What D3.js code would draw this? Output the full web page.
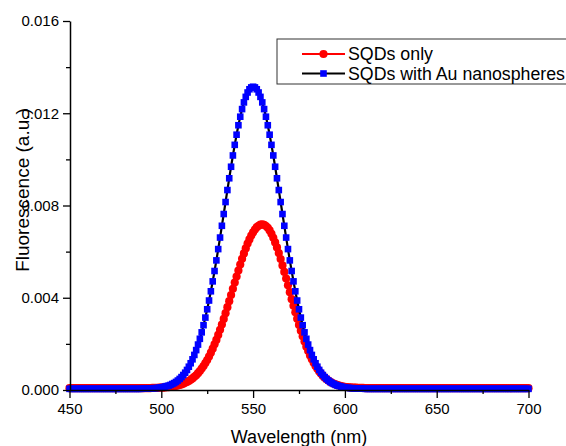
<!DOCTYPE html>
<html>
<head>
<meta charset="utf-8">
<script src="https://cdn.jsdelivr.net/npm/d3@7"></script>
<style>
  html, body { margin: 0; padding: 0; background: #fff; overflow: hidden; }
  svg { display: block; }
  text { font-family: "Liberation Sans", Arial, sans-serif; fill: #000; }
</style>
</head>
<body>
<svg id="chart" width="566" height="446"></svg>
<script>
// ---------------- DATA ----------------
const wavelengths = [
450,451,452,453,454,455,456,457,458,459,460,461,462,463,464,465,466,467,468,469,
470,471,472,473,474,475,476,477,478,479,480,481,482,483,484,485,486,487,488,489,
490,491,492,493,494,495,496,497,498,499,500,501,502,503,504,505,506,507,508,509,
510,511,512,513,514,515,516,517,518,519,520,521,522,523,524,525,526,527,528,529,
530,531,532,533,534,535,536,537,538,539,540,541,542,543,544,545,546,547,548,549,
550,551,552,553,554,555,556,557,558,559,560,561,562,563,564,565,566,567,568,569,
570,571,572,573,574,575,576,577,578,579,580,581,582,583,584,585,586,587,588,589,
590,591,592,593,594,595,596,597,598,599,600,601,602,603,604,605,606,607,608,609,
610,611,612,613,614,615,616,617,618,619,620,621,622,623,624,625,626,627,628,629,
630,631,632,633,634,635,636,637,638,639,640,641,642,643,644,645,646,647,648,649,
650,651,652,653,654,655,656,657,658,659,660,661,662,663,664,665,666,667,668,669,
670,671,672,673,674,675,676,677,678,679,680,681,682,683,684,685,686,687,688,689,
690,691,692,693,694,695,696,697,698,699,700];

const sqdsOnly = [
0.00008,0.00008,0.00008,0.00008,0.00008,0.00008,0.00008,0.00008,0.00008,0.00008,
0.00008,0.00008,0.00008,0.00008,0.00008,0.00008,0.00008,0.00008,0.00008,0.00008,
0.00008,0.00008,0.00008,0.00008,0.00008,0.00008,0.00008,0.00008,0.00008,0.00008,
0.00008,0.00008,0.00008,0.00008,0.00008,0.00008,0.00008,0.00008,0.00008,0.00008,
0.00008,0.00008,0.00008,0.00008,0.00008,0.00009,0.00009,0.00009,0.00009,0.00010,
0.00010,0.00010,0.00011,0.00012,0.00012,0.00013,0.00015,0.00016,0.00018,0.00019,
0.00022,0.00024,0.00027,0.00031,0.00035,0.00039,0.00044,0.00050,0.00057,0.00064,
0.00073,0.00082,0.00093,0.00104,0.00117,0.00130,0.00145,0.00162,0.00179,0.00198,
0.00217,0.00239,0.00261,0.00284,0.00308,0.00333,0.00359,0.00385,0.00412,0.00439,
0.00466,0.00492,0.00518,0.00544,0.00569,0.00592,0.00614,0.00635,0.00653,0.00670,
0.00684,0.00696,0.00706,0.00712,0.00717,0.00718,0.00716,0.00711,0.00703,0.00692,
0.00677,0.00660,0.00640,0.00618,0.00594,0.00568,0.00540,0.00512,0.00483,0.00454,
0.00424,0.00394,0.00365,0.00337,0.00309,0.00282,0.00257,0.00233,0.00210,0.00188,
0.00169,0.00150,0.00133,0.00118,0.00104,0.00092,0.00080,0.00070,0.00061,0.00053,
0.00047,0.00041,0.00035,0.00031,0.00027,0.00024,0.00021,0.00019,0.00017,0.00015,
0.00014,0.00013,0.00012,0.00011,0.00010,0.00010,0.00010,0.00009,0.00009,0.00009,
0.00009,0.00008,0.00008,0.00008,0.00008,0.00008,0.00008,0.00008,0.00008,0.00008,
0.00008,0.00008,0.00008,0.00008,0.00008,0.00008,0.00008,0.00008,0.00008,0.00008,
0.00008,0.00008,0.00008,0.00008,0.00008,0.00008,0.00008,0.00008,0.00008,0.00008,
0.00008,0.00008,0.00008,0.00008,0.00008,0.00008,0.00008,0.00008,0.00008,0.00008,
0.00008,0.00008,0.00008,0.00008,0.00008,0.00008,0.00008,0.00008,0.00008,0.00008,
0.00008,0.00008,0.00008,0.00008,0.00008,0.00008,0.00008,0.00008,0.00008,0.00008,
0.00008,0.00008,0.00008,0.00008,0.00008,0.00008,0.00008,0.00008,0.00008,0.00008,
0.00008,0.00008,0.00008,0.00008,0.00008,0.00008,0.00008,0.00008,0.00008,0.00008,
0.00008,0.00008,0.00008,0.00008,0.00008,0.00008,0.00008,0.00008,0.00008,0.00008,
0.00008];

const sqdsWithAu = [
0.00005,0.00005,0.00005,0.00005,0.00005,0.00005,0.00005,0.00005,0.00005,0.00005,
0.00005,0.00005,0.00005,0.00005,0.00005,0.00005,0.00005,0.00005,0.00005,0.00005,
0.00005,0.00005,0.00005,0.00005,0.00005,0.00005,0.00005,0.00005,0.00005,0.00005,
0.00005,0.00005,0.00005,0.00005,0.00005,0.00005,0.00005,0.00005,0.00005,0.00005,
0.00006,0.00006,0.00006,0.00006,0.00007,0.00007,0.00008,0.00008,0.00009,0.00010,
0.00011,0.00013,0.00015,0.00017,0.00019,0.00022,0.00026,0.00030,0.00035,0.00041,
0.00048,0.00056,0.00065,0.00075,0.00087,0.00101,0.00116,0.00133,0.00152,0.00173,
0.00197,0.00222,0.00250,0.00281,0.00314,0.00350,0.00388,0.00428,0.00471,0.00516,
0.00562,0.00611,0.00661,0.00712,0.00763,0.00815,0.00867,0.00918,0.00968,0.01017,
0.01063,0.01107,0.01148,0.01185,0.01218,0.01247,0.01271,0.01290,0.01304,0.01312,
0.01315,0.01312,0.01304,0.01290,0.01271,0.01247,0.01218,0.01185,0.01148,0.01107,
0.01063,0.01017,0.00968,0.00918,0.00867,0.00815,0.00763,0.00712,0.00661,0.00611,
0.00562,0.00516,0.00471,0.00428,0.00388,0.00350,0.00314,0.00281,0.00250,0.00222,
0.00197,0.00173,0.00152,0.00133,0.00116,0.00101,0.00087,0.00075,0.00065,0.00056,
0.00048,0.00041,0.00035,0.00030,0.00026,0.00022,0.00019,0.00017,0.00015,0.00013,
0.00011,0.00010,0.00009,0.00008,0.00008,0.00007,0.00007,0.00006,0.00006,0.00006,
0.00006,0.00005,0.00005,0.00005,0.00005,0.00005,0.00005,0.00005,0.00005,0.00005,
0.00005,0.00005,0.00005,0.00005,0.00005,0.00005,0.00005,0.00005,0.00005,0.00005,
0.00005,0.00005,0.00005,0.00005,0.00005,0.00005,0.00005,0.00005,0.00005,0.00005,
0.00005,0.00005,0.00005,0.00005,0.00005,0.00005,0.00005,0.00005,0.00005,0.00005,
0.00005,0.00005,0.00005,0.00005,0.00005,0.00005,0.00005,0.00005,0.00005,0.00005,
0.00005,0.00005,0.00005,0.00005,0.00005,0.00005,0.00005,0.00005,0.00005,0.00005,
0.00005,0.00005,0.00005,0.00005,0.00005,0.00005,0.00005,0.00005,0.00005,0.00005,
0.00005,0.00005,0.00005,0.00005,0.00005,0.00005,0.00005,0.00005,0.00005,0.00005,
0.00005,0.00005,0.00005,0.00005,0.00005,0.00005,0.00005,0.00005,0.00005,0.00005,
0.00005];

const xMajorTicks = [450, 500, 550, 600, 650, 700];
const xMinorTicks = [475, 525, 575, 625, 675];
const yMajorTicks = [0.000, 0.004, 0.008, 0.012, 0.016];
const yMinorTicks = [0.002, 0.006, 0.010, 0.014];
const seriesNames = ["SQDs only", "SQDs with Au nanospheres"];
const xTitle = "Wavelength (nm)";
const yTitle = "Fluorescence (a.u.)";

// ---------------- CHART ----------------
const svg = d3.select("#chart");
const x = d3.scaleLinear().domain([450, 700]).range([69.5, 528.5]);
const y = d3.scaleLinear().domain([0, 0.016]).range([390, 21]);

const redData = wavelengths.map((w, i) => ({ w, v: sqdsOnly[i] }));
const blueData = wavelengths.map((w, i) => ({ w, v: sqdsWithAu[i] }));

const line = d3.line().x(d => x(d.w)).y(d => y(d.v));
const circR = 4.1;
const sq = 6.6;

// red series (line + circles)
svg.append("path").datum(redData)
  .attr("fill", "none").attr("stroke", "#ff0000").attr("stroke-width", 2)
  .attr("d", line);
svg.append("g").selectAll("circle").data(redData).join("circle")
  .attr("cx", d => x(d.w)).attr("cy", d => y(d.v)).attr("r", circR)
  .attr("fill", "#ff0000");

// blue series (black line + blue squares)
svg.append("path").datum(blueData)
  .attr("fill", "none").attr("stroke", "#000").attr("stroke-width", 2.2)
  .attr("d", line);
svg.append("g").selectAll("rect").data(blueData).join("rect")
  .attr("x", d => x(d.w) - sq / 2).attr("y", d => y(d.v) - sq / 2)
  .attr("width", sq).attr("height", sq)
  .attr("fill", "#0000ff");

// axes
const axisStyle = g => {
  g.select(".domain").attr("stroke", "#000").attr("stroke-width", 1.5);
  g.selectAll(".tick line").attr("stroke", "#000").attr("stroke-width", 1.3);
  g.selectAll(".tick text").style("font-family", "'Liberation Sans', Arial, sans-serif")
    .style("font-size", "15px").attr("fill", "#000");
};

svg.append("g").attr("transform", "translate(0,390)")
  .call(d3.axisBottom(x).tickValues(xMinorTicks).tickSize(4).tickFormat(""))
  .call(g => g.select(".domain").remove())
  .call(axisStyle);
svg.append("g").attr("transform", "translate(0,390)")
  .call(d3.axisBottom(x).tickValues(xMajorTicks).tickSize(8).tickSizeOuter(0).tickPadding(5).tickFormat(d3.format("d")))
  .call(axisStyle);

svg.append("g").attr("transform", "translate(70,0)")
  .call(d3.axisLeft(y).tickValues(yMinorTicks).tickSize(4).tickFormat(""))
  .call(g => g.select(".domain").remove())
  .call(axisStyle);
svg.append("g").attr("transform", "translate(70,0)")
  .call(d3.axisLeft(y).tickValues(yMajorTicks).tickSize(7).tickSizeOuter(0).tickPadding(4).tickFormat(d3.format(".3f")))
  .call(axisStyle);

// axis titles
svg.append("text").attr("x", 299).attr("y", 443).attr("text-anchor", "middle")
  .style("font-size", "18px").text(xTitle);
svg.append("text").attr("transform", "translate(29,190) rotate(-90)")
  .attr("text-anchor", "middle").style("font-size", "19px").text(yTitle);

// legend
const lg = svg.append("g");
lg.append("rect").attr("x", 277).attr("y", 39).attr("width", 310).attr("height", 45)
  .attr("fill", "#fff").attr("stroke", "#333").attr("stroke-width", 1);
const rows = [
  { name: seriesNames[0], y: 54, lineColor: "#ff0000", marker: "circle", color: "#ff0000", len: 85 },
  { name: seriesNames[1], y: 73.5, lineColor: "#000", marker: "square", color: "#0000ff", len: 217 }
];
rows.forEach(r => {
  lg.append("line").attr("x1", 302).attr("x2", 345).attr("y1", r.y).attr("y2", r.y)
    .attr("stroke", r.lineColor).attr("stroke-width", 2.2);
  if (r.marker === "circle") {
    lg.append("circle").attr("cx", 323.5).attr("cy", r.y).attr("r", circR).attr("fill", r.color);
  } else {
    lg.append("rect").attr("x", 323.5 - sq / 2).attr("y", r.y - sq / 2)
      .attr("width", sq).attr("height", sq).attr("fill", r.color);
  }
  lg.append("text").attr("x", 348).attr("y", r.y + 6).style("font-size", "17.5px")
    .attr("textLength", r.len).attr("lengthAdjust", "spacingAndGlyphs").text(r.name);
});
</script>
</body>
</html>
